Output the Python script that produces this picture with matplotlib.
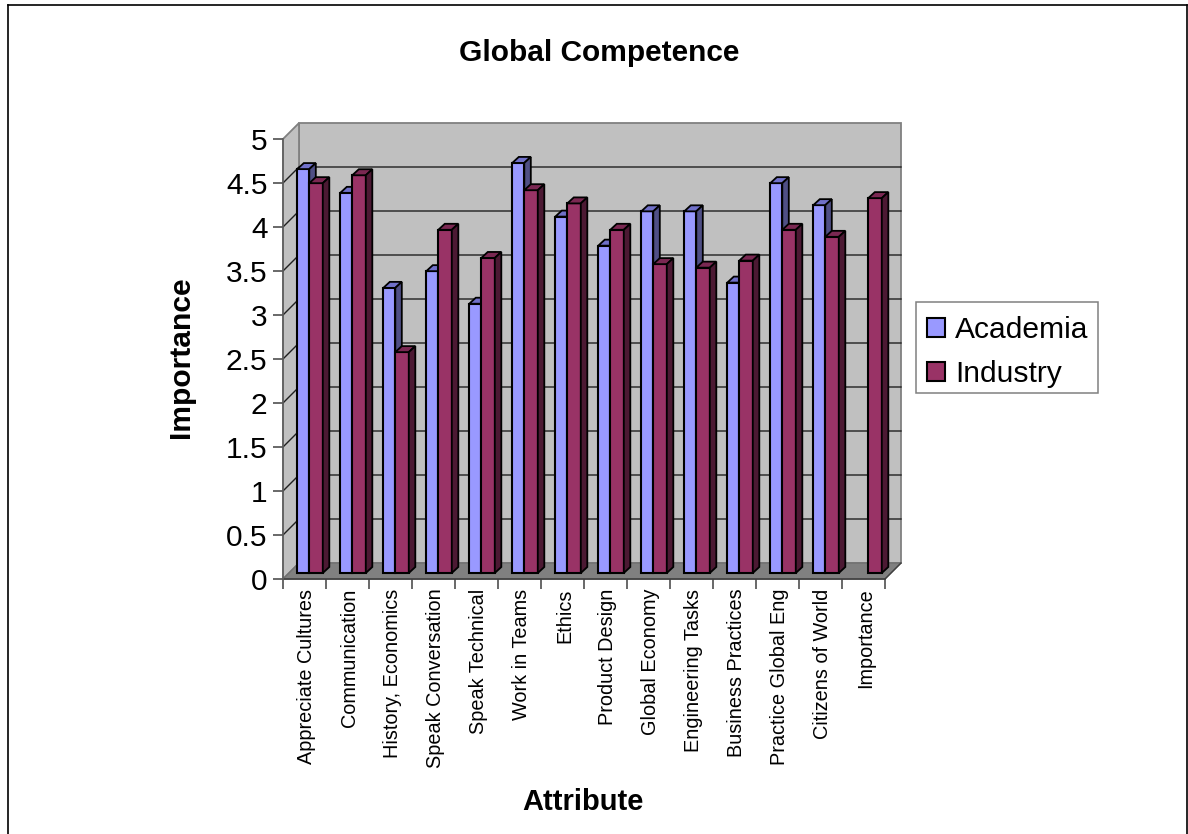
import matplotlib
matplotlib.use('Agg')
import matplotlib.pyplot as plt
from matplotlib.patches import Polygon, Rectangle
import numpy as np

plt.rcParams['font.family'] = ['Liberation Sans', 'DejaVu Sans']

attributes = ['Appreciate Cultures', 'Communication', 'History, Economics', 'Speak Conversation',
              'Speak Technical', 'Work in Teams', 'Ethics', 'Product Design', 'Global Economy',
              'Engineering Tasks', 'Business Practices', 'Practice Global Eng', 'Citizens of World',
              'Importance']
academia = [4.59, 4.32, 3.24, 3.43, 3.06, 4.66, 4.05, 3.72, 4.11, 4.11, 3.30, 4.43, 4.18, np.nan]
industry = [4.43, 4.52, 2.51, 3.90, 3.58, 4.35, 4.20, 3.90, 3.51, 3.47, 3.55, 3.90, 3.82, 4.26]
yticks = [0, 0.5, 1, 1.5, 2, 2.5, 3, 3.5, 4, 4.5, 5]
yticklabels = ['0', '0.5', '1', '1.5', '2', '2.5', '3', '3.5', '4', '4.5', '5']

W, H = 1188, 834
fig = plt.figure(figsize=(W / 100, H / 100), dpi=100)
# front plane of the fake 3d box
ax = fig.add_axes([283 / W, 1 - 579 / H, 602 / W, 440 / H])
ax.set_xlim(0, 14)
ax.set_ylim(0, 5)
ax.patch.set_visible(False)
for s in ax.spines.values():
    s.set_visible(False)

# px to data units
ux = 14 / 602
uy = 5 / 440
dx, dy = 16 * ux, 16 * uy      # wall depth
bx, by = 6.5 * ux, 6 * uy      # bar depth
x0 = 14.3 * ux
bw_a = 12 * ux
bw_i = 13.5 * ux
base = 6 * uy

kw = dict(clip_on=False)
# walls and floor
ax.add_patch(Polygon([(dx, dy), (14 + dx, dy), (14 + dx, 5 + dy), (dx, 5 + dy)], fc='#c0c0c0', ec='#808080', lw=1.3, zorder=1, **kw))
ax.add_patch(Polygon([(0, 0), (dx, dy), (dx, 5 + dy), (0, 5)], fc='#c0c0c0', ec='#808080', lw=1.3, zorder=1, **kw))
ax.add_patch(Polygon([(0, 0), (14, 0), (14 + dx, dy), (dx, dy)], fc='#808080', ec='#707070', lw=1, zorder=1, **kw))

for v in yticks[1:-1]:
    ax.plot([0, dx, 14 + dx], [v, v + dy, v + dy], color='#202020', lw=1, zorder=2, **kw)
ax.plot([0, 14], [0, 0], color='#404040', lw=1.2, zorder=3, **kw)
ax.plot([0, 0], [0, 5], color='#606060', lw=1.2, zorder=3, **kw)
ax.plot([14, 14 + dx], [0, dy], color='#404040', lw=1, zorder=3, **kw)


def draw_bar(x, bw, v, front, top, side, z):
    ax.bar(x, v, bw, bottom=base, align='edge', color=front, edgecolor='black', linewidth=1.5, zorder=z)
    y = base + v
    ax.add_patch(Polygon([(x, y), (x + bw, y), (x + bw + bx, y + by), (x + bx, y + by)],
                         fc=top, ec='black', lw=1.3, zorder=z, **kw))
    ax.add_patch(Polygon([(x + bw, base), (x + bw + bx, base + by), (x + bw + bx, y + by), (x + bw, y)],
                         fc=side, ec='black', lw=1.3, zorder=z, **kw))


for i in range(len(attributes)):
    if not np.isnan(academia[i]):
        draw_bar(i + x0, bw_a, academia[i], '#9999ff', '#7070c8', '#4f4f85', 5 + 2 * i)
    draw_bar(i + x0 + bw_a, bw_i, industry[i], '#993366', '#7a2852', '#4c1933', 6 + 2 * i)

ax.set_xticks(range(15))
ax.set_xticklabels([])
ax.set_yticks(yticks)
ax.set_yticklabels(yticklabels, fontsize=21.5)
ax.tick_params(axis='y', length=7.2, width=1.1, color='#404040', pad=4)
ax.tick_params(axis='x', length=7.5, width=1.1, color='#404040')

# category labels sit between ticks, top aligned under the axis
for i, name in enumerate(attributes):
    ax.annotate(name, (i + 0.5, 0), xytext=(1.5, -7), textcoords='offset points', rotation=90,
                ha='center', va='top', fontsize=14.3)

fig.text(599 / W, 1 - 53 / H, 'Global Competence', fontsize=21.5, fontweight='bold', ha='center', va='center')
fig.text(181 / W, 1 - 357.5 / H, 'Importance', fontsize=21.6, fontweight='bold', rotation=90, ha='center', va='center')
fig.text(583 / W, 1 - 802 / H, 'Attribute', fontsize=21, fontweight='bold', ha='center', va='center')

# legend, box drawn apart so the rows can sit lower in it
fig.add_artist(Rectangle((916 / W, 1 - 393 / H), 182 / W, 91 / H, transform=fig.transFigure,
                         fc='white', ec='#808080', lw=1.1))
handles = [Rectangle((0, 0), 1, 1, fc='#9999ff', ec='black', lw=1.5),
           Rectangle((0, 0), 1, 1, fc='#993366', ec='black', lw=1.5)]
leg = fig.legend(handles, ['Academia', 'Industry'], loc='lower left',
                 bbox_to_anchor=(917 / W, 1 - 398 / H, 182 / W, 91 / H), mode='expand',
                 fontsize=21.6, frameon=False,
                 handlelength=0.6, handleheight=0.6, handletextpad=0.33, labelspacing=0.54,
                 borderaxespad=0, borderpad=0.33)

# outer frame, open at the bottom
for xs, ys in [([8, 8], [834, 5]), ([8, 1187], [5, 5]), ([1187, 1187], [5, 834])]:
    fig.add_artist(plt.Line2D([a / W for a in xs], [1 - b / H for b in ys], color='black', lw=1.2))

fig.savefig('out.png', dpi=100)
